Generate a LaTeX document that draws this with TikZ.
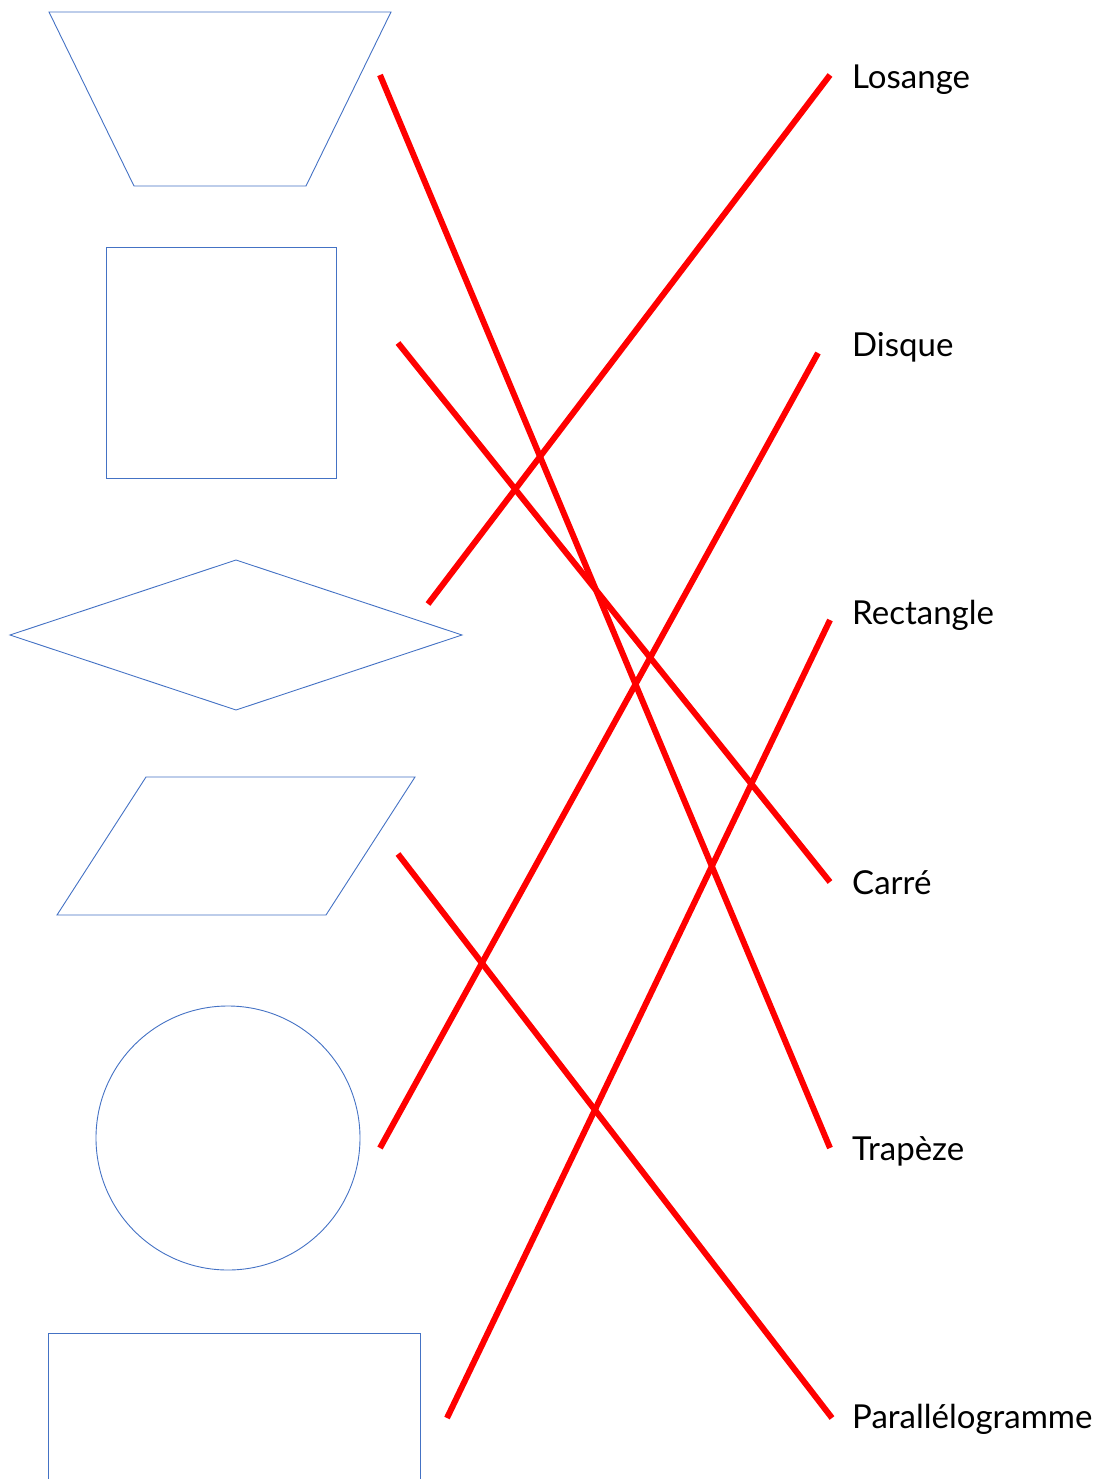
\documentclass[tikz,border=0pt]{standalone}
\usepackage{fontspec}
\setmainfont{Lato}
\definecolor{shapeblue}{RGB}{68,114,196}
\begin{document}
\begin{tikzpicture}[x=1pt,y=-1pt,
  shapeline/.style={draw=shapeblue,line width=0.9pt},
  link/.style={draw=red,line width=6pt},
  lbl/.style={anchor=west,inner sep=0pt,font=\fontsize{33}{38}\selectfont}]
\useasboundingbox (0,0) rectangle (1098,1479);
% shapes
\draw[shapeline] (49,12) -- (391,12) -- (306,186) -- (134,186) -- cycle;
\draw[shapeline] (106,247) rectangle (336,478);
\draw[shapeline] (10,635) -- (236,560) -- (462,635) -- (236,710) -- cycle;
\draw[shapeline] (146,777) -- (415,777) -- (326,915) -- (57,915) -- cycle;
\draw[shapeline] (228,1138) circle (132);
\draw[shapeline] (48,1490) -- (48,1333) -- (420,1333) -- (420,1490);
% labels
\node[lbl] (los) at (852,80) {Losange};
\node[lbl] (dis) at (852,347) {Disque};
\node[lbl] (rec) at (852,615) {Rectangle};
\node[lbl] (car) at (852,883) {Carré};
\node[lbl] (tra) at (852,1151) {Trapèze};
\node[lbl] (par) at (852,1419) {Parallélogramme};
% endpoints
\coordinate (a1) at (380,75);   \coordinate (b1) at (830,1148);
\coordinate (a2) at (398,343);  \coordinate (b2) at (830,882);
\coordinate (a3) at (428,604);  \coordinate (b3) at (830,75);
\coordinate (a4) at (398,854);  \coordinate (b4) at (832,1418);
\coordinate (a5) at (380,1148); \coordinate (b5) at (818,353);
\coordinate (a6) at (447,1418); \coordinate (b6) at (830,620);
\draw[link] (a1) -- (b1);
\draw[link] (a2) -- (b2);
\draw[link] (a3) -- (b3);
\draw[link] (a4) -- (b4);
\draw[link] (a5) -- (b5);
\draw[link] (a6) -- (b6);
\end{tikzpicture}
\end{document}
